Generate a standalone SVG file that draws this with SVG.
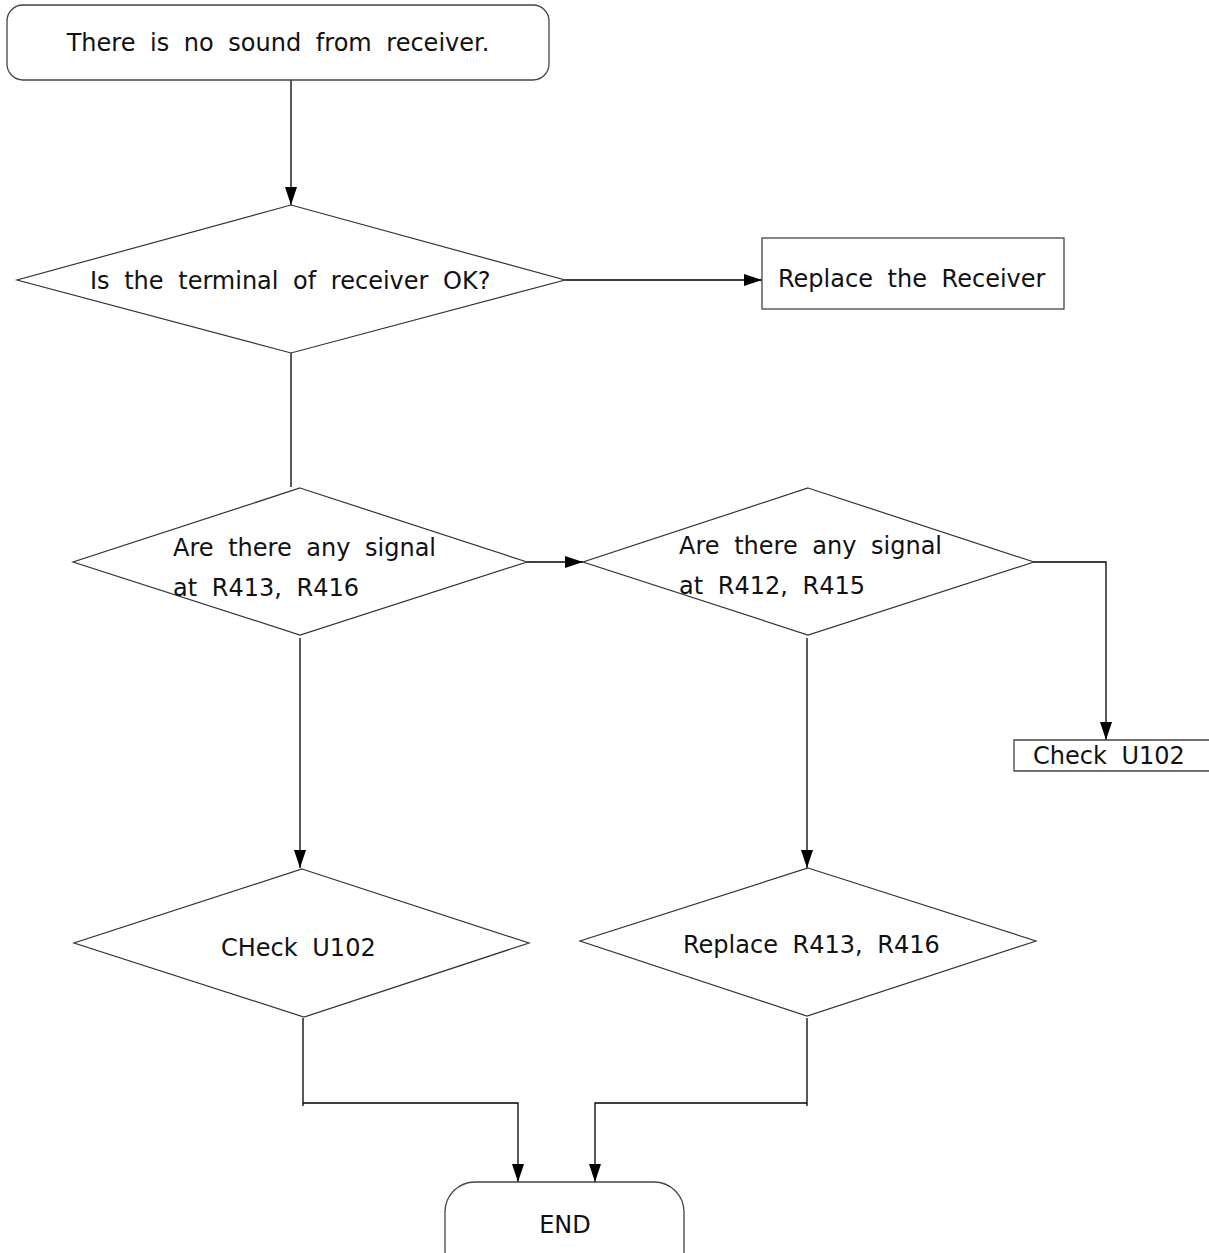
<svg xmlns="http://www.w3.org/2000/svg" width="1209" height="1253" viewBox="0 0 1209 1253">
<style>
.shape{fill:#fff;stroke:#333;stroke-width:1.2}
.box{fill:#fff;stroke:#444;stroke-width:1.3}
.conn{fill:none;stroke:#000;stroke-width:1.3}
text{font-family:"DejaVu Sans","Verdana",sans-serif;font-size:24px;fill:#111;word-spacing:7px}
</style>
<defs>
<marker id="ah" markerUnits="userSpaceOnUse" markerWidth="20" markerHeight="14" refX="18" refY="6" orient="auto">
<path d="M0,0 L18,6 L0,12 z" fill="#000"/>
</marker>
</defs>
<rect width="1209" height="1253" fill="#fff"/>
<g id="connectors">
<path class="conn" d="M291,80 V205" marker-end="url(#ah)"/>
<path class="conn" d="M565,280 H762" marker-end="url(#ah)"/>
<path class="conn" d="M291,353 V487"/>
<path class="conn" d="M527,562 H583" marker-end="url(#ah)"/>
<path class="conn" d="M1033,562 H1106 V740" marker-end="url(#ah)"/>
<path class="conn" d="M300,638 V868" marker-end="url(#ah)"/>
<path class="conn" d="M807,638 V868" marker-end="url(#ah)"/>
<path class="conn" d="M303,1018 V1106"/>
<path class="conn" d="M303,1103 H518 V1182" marker-end="url(#ah)"/>
<path class="conn" d="M807,1018 V1106"/>
<path class="conn" d="M807,1103 H595 V1182" marker-end="url(#ah)"/>
</g>
<g id="start">
<rect class="box" x="7" y="5" width="542" height="75" rx="16" ry="16"/>
<text x="278" y="51" text-anchor="middle">There is no sound from receiver.</text>
</g>
<g id="d1">
<polygon class="shape" points="291,205 565,280 291,353 17,280"/>
<text x="90" y="289">Is the terminal of receiver OK?</text>
</g>
<g id="replace-receiver">
<rect class="box" x="762" y="238" width="302" height="71"/>
<text x="778" y="287">Replace the Receiver</text>
</g>
<g id="d2">
<polygon class="shape" points="300,488 527,562 300,635 73,562"/>
<text x="173" y="556">Are there any signal</text>
<text x="173" y="596">at R413, R416</text>
</g>
<g id="d3">
<polygon class="shape" points="808,488 1034,562 808,635 583,562"/>
<text x="679" y="554">Are there any signal</text>
<text x="679" y="594">at R412, R415</text>
</g>
<g id="check-u102-box">
<path class="box" d="M1209,740 H1014 V771 H1209"/>
<text x="1033" y="764">Check U102</text>
</g>
<g id="d4">
<polygon class="shape" points="302,869 529,943 304,1017 74,943"/>
<text x="221" y="956">CHeck U102</text>
</g>
<g id="d5">
<polygon class="shape" points="808,868 1036,941 807,1016 580,941"/>
<text x="683" y="953">Replace R413, R416</text>
</g>
<g id="end">
<rect class="box" x="445" y="1182" width="239" height="100" rx="30" ry="30"/>
<text x="565" y="1233" text-anchor="middle">END</text>
</g>
</svg>
